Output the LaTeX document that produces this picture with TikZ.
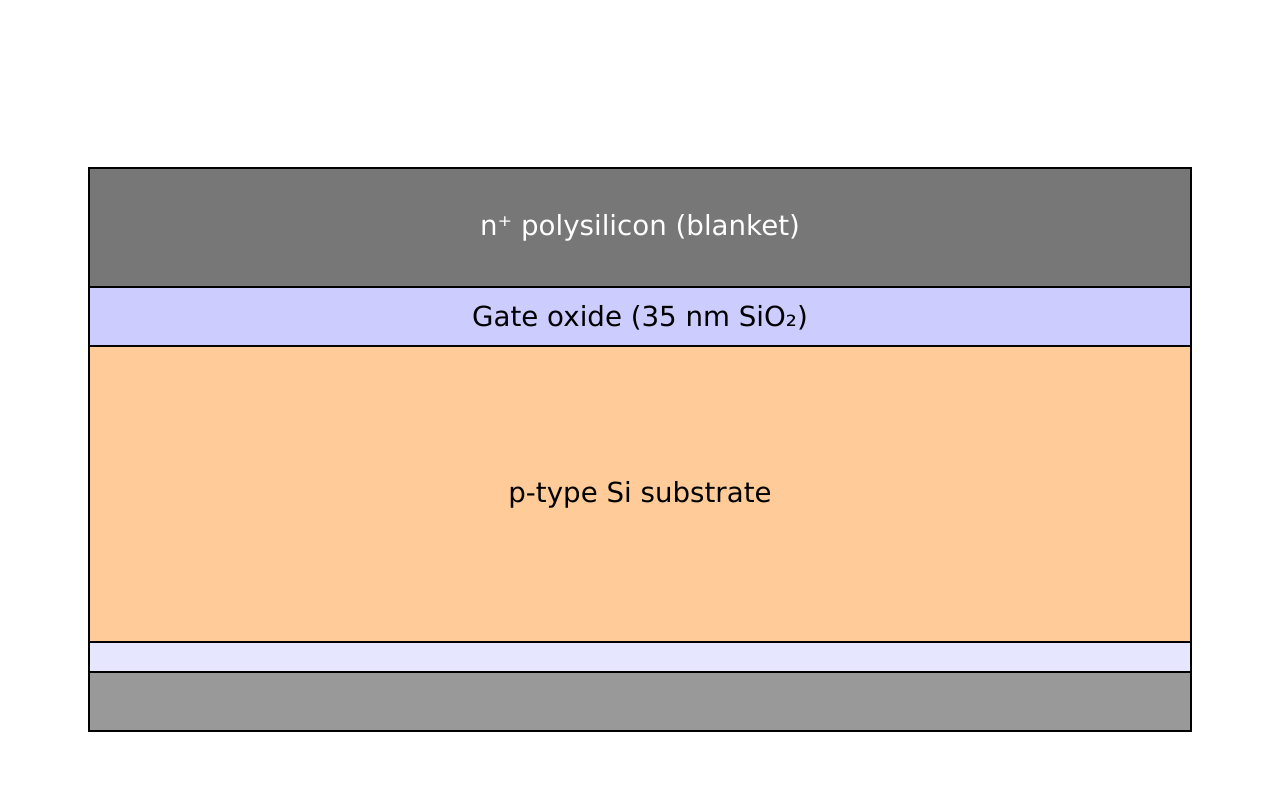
\documentclass[tikz,border=0pt]{standalone}
\usepackage{fontspec}
\setmainfont{DejaVu Sans}
\usepackage{xcolor}
\definecolor{poly}{RGB}{119,119,119}
\definecolor{oxide}{RGB}{204,204,255}
\definecolor{subst}{RGB}{255,204,153}
\definecolor{backox}{RGB}{230,230,255}
\definecolor{backpoly}{RGB}{153,153,153}
\begin{document}
\begin{tikzpicture}[x=0.02cm,y=-0.02cm,
 lay/.style={draw=black,line width=1.4pt},
 t/.style={font=\fontsize{15.75}{18}\selectfont,inner sep=0pt}]
\fill[white] (0,0) rectangle (1280,810);
\useasboundingbox (0,0) rectangle (1280,810);
\filldraw[lay,fill=poly] (89,168) rectangle (1191,287);
\filldraw[lay,fill=oxide] (89,287) rectangle (1191,346);
\filldraw[lay,fill=subst] (89,346) rectangle (1191,642);
\filldraw[lay,fill=backox] (89,642) rectangle (1191,672);
\filldraw[lay,fill=backpoly] (89,672) rectangle (1191,731);
\node[t,text=white] (poly) at (640,228) {n⁺ polysilicon (blanket)};
\node[t] (gox) at (640,317.5) {Gate oxide (35 nm SiO₂)};
\node[t] (sub) at (640,495) {p-type Si substrate};
\end{tikzpicture}
\end{document}
